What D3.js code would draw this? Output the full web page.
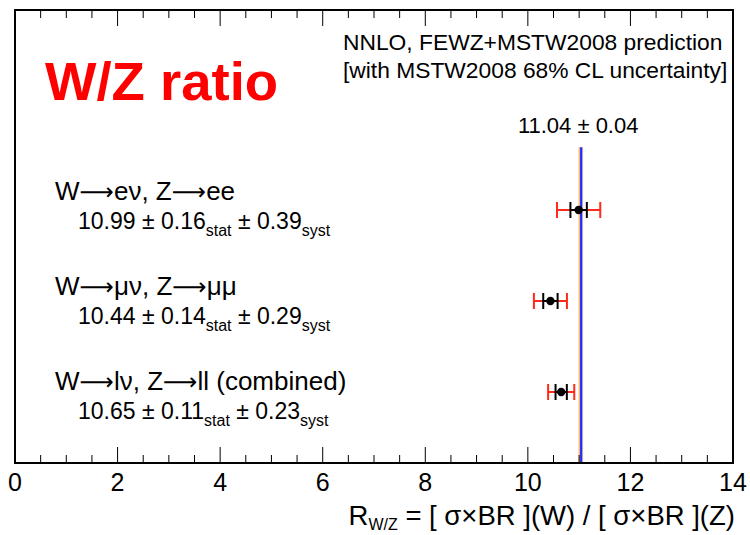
<!DOCTYPE html>
<html>
<head>
<meta charset="utf-8">
<script src="https://cdn.jsdelivr.net/npm/d3@7"></script>
<style>
  html, body { margin: 0; padding: 0; background: #fff; }
  svg text { font-family: "Liberation Sans", Arial, sans-serif; }
  .arrow { font-family: "DejaVu Sans", sans-serif; }
</style>
</head>
<body>
<svg id="chart" width="750" height="535"></svg>
<script>
// Measurements of R_W/Z per channel; labels split as [W, W decay, Z, Z decay, suffix]
const channels = [["W", "eν", "Z", "ee", ""], ["W", "μν", "Z", "μμ", ""], ["W", "lν", "Z", "ll", " (combined)"]];
const values   = [10.99, 10.44, 10.65];
const statErr  = [0.16, 0.14, 0.11];
const systErr  = [0.39, 0.29, 0.23];
const rowIndex = [3, 2, 1];

// NNLO prediction and its uncertainty
const prediction = 11.04;
const predErr = 0.04;

const xTicks = [0, 2, 4, 6, 8, 10, 12, 14];

const W = 750, H = 535;
const m = { left: 15, right: 17, top: 10, bottom: 72 };
const svg = d3.select("#chart");

const x = d3.scaleLinear().domain([0, 14]).range([m.left, W - m.right]);
// row positions for the markers and for the text blocks
const y = d3.scaleLinear().domain([1, 3]).range([392, 210]);
const yLab = d3.scaleLinear().domain([1, 3]).range([390, 200]);

const plotTop = m.top, plotBot = H - m.bottom;

// prediction band + central line
const bandTop = y(3.69);
svg.append("rect")
  .attr("x", x(prediction - predErr)).attr("width", x(prediction + predErr) - x(prediction - predErr))
  .attr("y", bandTop).attr("height", plotBot - bandTop)
  .attr("fill", "#fbd9a9");
svg.append("line")
  .attr("x1", x(prediction - predErr)).attr("x2", x(prediction - predErr))
  .attr("y1", bandTop).attr("y2", plotBot)
  .attr("stroke", "#f5a24a").attr("stroke-width", 1);
svg.append("line")
  .attr("x1", x(prediction)).attr("x2", x(prediction))
  .attr("y1", bandTop).attr("y2", plotBot)
  .attr("stroke", "#1a2cff").attr("stroke-width", 2.2);

// error bars
const capH = 8;
channels.forEach((c, i) => {
  const v = values[i], s = statErr[i], t = Math.sqrt(statErr[i] ** 2 + systErr[i] ** 2);
  const yy = y(rowIndex[i]);
  const g = svg.append("g");
  // total uncertainty (red)
  g.append("line").attr("x1", x(v - t)).attr("x2", x(v + t)).attr("y1", yy).attr("y2", yy)
    .attr("stroke", "#ff2a1a").attr("stroke-width", 2);
  [v - t, v + t].forEach(e => g.append("line")
    .attr("x1", x(e)).attr("x2", x(e)).attr("y1", yy - capH).attr("y2", yy + capH)
    .attr("stroke", "#ff2a1a").attr("stroke-width", 2));
  // statistical uncertainty (black)
  g.append("line").attr("x1", x(v - s)).attr("x2", x(v + s)).attr("y1", yy).attr("y2", yy)
    .attr("stroke", "#000").attr("stroke-width", 2);
  [v - s, v + s].forEach(e => g.append("line")
    .attr("x1", x(e)).attr("x2", x(e)).attr("y1", yy - capH).attr("y2", yy + capH)
    .attr("stroke", "#000").attr("stroke-width", 2));
  g.append("circle").attr("cx", x(v)).attr("cy", yy).attr("r", 4.2).attr("fill", "#000");

  // channel label
  const ly = yLab(rowIndex[i]);
  const lt = svg.append("text").attr("x", 55).attr("y", ly)
    .attr("font-size", 26).attr("fill", "#000");
  lt.append("tspan").text(c[0]);
  lt.append("tspan").attr("class", "arrow").attr("font-size", 24).text("⟶");
  lt.append("tspan").text(c[1] + ", " + c[2]);
  lt.append("tspan").attr("class", "arrow").attr("font-size", 24).text("⟶");
  lt.append("tspan").text(c[3] + c[4]);

  // measured value with uncertainties
  const vt = svg.append("text").attr("x", 78).attr("y", ly + 29)
    .attr("font-size", 23).attr("fill", "#000");
  vt.append("tspan").text(`${v.toFixed(2)} ± ${s.toFixed(2)}`);
  vt.append("tspan").attr("font-size", 16).attr("dy", 7).text("stat");
  vt.append("tspan").attr("dy", -7).text(` ± ${systErr[i].toFixed(2)}`);
  vt.append("tspan").attr("font-size", 16).attr("dy", 7).text("syst");
});

// frame
svg.append("rect").attr("x", m.left).attr("y", plotTop)
  .attr("width", W - m.left - m.right).attr("height", plotBot - plotTop)
  .attr("fill", "none").attr("stroke", "#000").attr("stroke-width", 2);

// axis ticks (bottom and top)
const minor = d3.range(0, 14.001, 0.5);
minor.forEach(t => {
  const major = Math.abs(t % 2) < 1e-6;
  const len = major ? 16 : 8;
  svg.append("line").attr("x1", x(t)).attr("x2", x(t))
    .attr("y1", plotBot).attr("y2", plotBot - len).attr("stroke", "#000").attr("stroke-width", 1);
  svg.append("line").attr("x1", x(t)).attr("x2", x(t))
    .attr("y1", plotTop).attr("y2", plotTop + len).attr("stroke", "#000").attr("stroke-width", 1);
});
svg.selectAll(".tl").data(xTicks).enter().append("text")
  .attr("x", d => x(d)).attr("y", 491).attr("text-anchor", "middle")
  .attr("font-size", 25).attr("fill", "#000").text(d => d);

// axis title
const at = svg.append("text").attr("x", 735).attr("y", 525).attr("text-anchor", "end")
  .attr("font-size", 27.5).attr("fill", "#000");
at.append("tspan").text("R");
at.append("tspan").attr("font-size", 16).attr("dy", 5).text("W/Z");
at.append("tspan").attr("dy", -5).text(" = [ σ×BR ](W) / [ σ×BR ](Z)");

// titles
svg.append("text").attr("x", 45).attr("y", 100).attr("font-size", 54.5)
  .attr("font-weight", "bold").attr("fill", "#ff0000").text("W/Z ratio");
svg.append("text").attr("x", 343).attr("y", 50).attr("font-size", 22.8).attr("fill", "#000")
  .text("NNLO, FEWZ+MSTW2008 prediction");
svg.append("text").attr("x", 343).attr("y", 78).attr("font-size", 22.8).attr("fill", "#000")
  .text("[with MSTW2008 68% CL uncertainty]");
svg.append("text").attr("x", x(prediction) - 3).attr("y", 133).attr("text-anchor", "middle")
  .attr("font-size", 22).attr("fill", "#000").text(`${prediction.toFixed(2)} ± ${predErr.toFixed(2)}`);
</script>
</body>
</html>
